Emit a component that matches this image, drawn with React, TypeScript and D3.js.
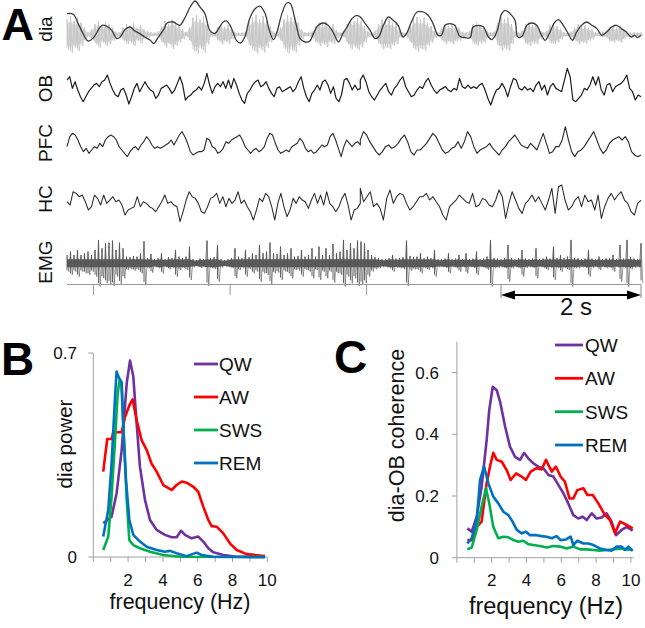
import React from "react";
import * as d3 from "d3";

const FONT = "'Liberation Sans', Arial, Helvetica, sans-serif";

// ================= Panel A data =================
const traceDuration = 8.2; // seconds shown
const halfTime = 4.19; // boundary between the two sampled halves
const scaleBar = [6.2, 8.2]; // 2 s
const axisTickTimes = [0.38, 2.33, 4.28];
const traceLabels = ["dia", "OB", "PFC", "HC", "EMG"];

// integrated diaphragm (t [s], a.u.)
const diaEnvelope: [number, number][] = [
  [0, 20.7], [0.09, 20], [0.16, 10.7], [0.23, 0.7], [0.3, -6.7], [0.38, -3.3], [0.45, 4.7], [0.5, 9], [0.57, 8], [0.64, 4],
  [0.71, -4.3], [0.76, -2.7], [0.83, 4.7], [0.9, 7.3], [0.97, 3.3], [1.04, 0.7], [1.11, -2.7], [1.19, -6], [1.24, -9.3], [1.3, -3.3],
  [1.38, 4.7], [1.43, 11.3], [1.52, 12.3], [1.61, 9], [1.69, 17.3], [1.76, 27.3], [1.83, 33.3], [1.9, 27.3], [1.97, 20.7], [2.04, 4],
  [2.11, 0.7], [2.18, 7.3], [2.23, 12.3], [2.28, 13.3], [2.33, 9], [2.38, 0.7], [2.42, -6], [2.48, -8.7], [2.54, -2.7], [2.61, 15.7],
  [2.69, 25.7], [2.76, 28], [2.83, 20.7], [2.89, 4], [2.95, -5.3], [3, 2.3], [3.07, 20.7], [3.14, 31.3], [3.19, 30.7], [3.26, 14],
  [3.33, -4.3], [3.4, -7.7], [3.47, -6.7], [3.52, 0.7], [3.59, 9], [3.66, 11.3], [3.73, 9], [3.8, 2.3], [3.88, -7.7], [3.94, 0.7],
  [4, 7.3], [4.07, 15.7], [4.14, 19], [4.19, 17.3], [4.26, 10.7], [4.33, 4], [4.4, -4.3], [4.45, -2.7], [4.52, 9], [4.59, 17.3],
  [4.66, 14], [4.73, 9], [4.8, -2.7], [4.85, 0.7], [4.92, 12.3], [5, 22.3], [5.09, 22.3], [5.16, 19], [5.23, 10.7], [5.3, -1],
  [5.35, -1], [5.4, 9], [5.47, 10.7], [5.54, 9], [5.61, -2], [5.69, -3.3], [5.76, -3.3], [5.8, 7.3], [5.88, 9], [5.95, 7.3],
  [6.02, -2.7], [6.07, -5.3], [6.14, 2.3], [6.21, 20.7], [6.26, 24], [6.33, 20.7], [6.4, 14], [6.44, -2.7], [6.5, -2], [6.57, 9],
  [6.64, 11.3], [6.71, 9], [6.78, -1], [6.83, -6], [6.9, 2.3], [6.97, 12.3], [7.02, 14.7], [7.09, 9], [7.16, 0.7], [7.22, -6],
  [7.28, 2.3], [7.35, 9], [7.42, 12.3], [7.5, 9], [7.57, 5.7], [7.64, -1], [7.71, 2.3], [7.78, 7.3], [7.85, 9], [7.92, 5.7],
  [7.99, 2.3], [8.06, -2.7], [8.11, -1], [8.15, -3.3], [8.2, -1],
];

// raw diaphragm EMG amplitude per 50 ms bin
const diaRawAmp = [
  45, 55, 40, 50, 35, 20, 6, 15, 30, 40, 25, 35, 30, 20, 8, 6, 20, 30, 25, 35,
  20, 28, 15, 10, 6, 5, 8, 25, 40, 30, 45, 35, 25, 15, 6, 20, 50, 58, 45, 55,
  30, 8, 6, 20, 30, 22, 28, 15, 6, 5, 6, 8, 35, 50, 58, 45, 55, 40, 25, 8,
  6, 20, 45, 58, 50, 55, 35, 15, 6, 6, 8, 25, 35, 30, 38, 25, 30, 12, 6, 8,
  30, 45, 40, 48, 40, 25, 8, 6, 10, 30, 45, 40, 45, 35, 30, 10, 6, 6, 25, 45,
  52, 45, 50, 35, 25, 10, 6, 20, 30, 25, 30, 22, 20, 8, 6, 10, 30, 35, 28, 25,
  10, 6, 8, 35, 50, 45, 50, 30, 8, 6, 10, 30, 35, 28, 30, 15, 6, 10, 28, 30,
  25, 15, 6, 6, 8, 20, 30, 25, 28, 20, 15, 6, 6, 8, 10, 22, 25, 20, 25, 15,
  8, 6, 6, 6, 5,
];

const obLeft = [
  20, 30, -5, 15, -10, -30, -45, -30, -15, -5, 5, 10, 0, 15, 20, 35, 10, -10, -25, -30,
  -10, -5, -25, -52, -30, -5, 10, -15, 0, 15, 0, -10, -15, -35, -25, -5, 0, 5, -5, -20,
  -10, 10, 30, 5, -40, -30, -25, -15, -10, 0, -10, 10, 40, 5, -20, 0, 10, 0, 15, -5,
  20, -5, 25, 5, -20, -40, -50, -20, -10, 5, 15, 20, 0, 5, 15, -5, -20, -30, -5, 0,
  -15, -10, -5, 0, -15, -5, 15, 30, -5, -30, -45, -20, -10, 5, -10, 15, 20, 5, -20, 0,
  -35, -45, -25, 20, 25, 10, -10, 5, -10, -5,
];
const obRight = [
  20, 35, 15, -15, -30, -40, -25, -10, 0, 10, -15, -25, -5, 5, 20, 30, 0, -15, -30, -25,
  -10, 0, -5, 15, 25, 5, -10, -20, -10, -5, 0, -10, -15, -5, -10, 25, 0, -5, 5, -5,
  0, -5, 5, 10, -10, -35, -55, -30, -10, -5, 10, -5, -30, 0, 25, 20, -5, -10, 0, -10,
  -5, -15, 5, 15, -10, 5, -25, 0, 10, -5, -10, -15, 20, 55, 30, -40, -45, -35, -25, -5,
  -10, 5, 30, 5, 30, -10, -25, 5, 10, -15, 0, 5, 10, 20, 35, -5, -15, -40, -25, -30,
];

const pfcLeft = [
  -5, 25, 35, 30, 15, -5, -20, -10, -25, -15, -5, -10, 5, -5, 15, 25, 30, 25, 15, -5,
  -15, -25, -35, -20, -10, -5, -15, 0, 10, 25, 15, 0, -10, -5, -10, -5, 0, 5, 15, 0,
  15, 30, 40, 25, 5, -20, -30, -25, -20, -20, -15, 20, 15, -5, -10, -25, -20, -10, 10, 5,
  15, 20, 25, 30, 15, -5, -15, -25, -15, -10, -20, -15, -5, 20, 35, 30, 5, -15, -25, -20,
  -15, -20, -5, 0, 5, 20, 10, -10, -20, -15, -25, -20, -10, 0, -5, 0, 25, 35, 15, -10,
  -35, -5, 15, 5, -5, 5, 10, 0,
];
const pfcRight = [
  15, 40, 30, 10, -5, -20, -30, -20, -5, 0, -10, -5, 5, 20, 30, 10, -20, -30, -15, -15,
  -5, 5, 20, 35, 25, 5, -15, -25, -20, -10, -5, 10, -10, 10, 40, 25, -5, -25, -15, -10,
  -5, 5, -10, -20, -30, -15, -5, 10, 20, 30, 15, 0, -5, -10, 5, -5, -15, 10, 35, 5,
  -25, -20, -5, -5, 15, 55, 15, -20, -35, -20, -15, -5, 10, 25, 40, 15, -10, -25, -15, 5,
  15, 20, 25, 15, 25, 10, -20, -30, -35, -30,
];

const hcLeft = [
  0, -10, 30, 25, 15, 20, 0, -25, -15, 20, 10, -10, 20, -5, 5, 15, 0, 5, -10, -40,
  -25, -20, -15, 15, -15, 0, -5, -15, -20, -30, -15, 0, 20, -5, 0, -10, -15, -60, -30, 5,
  30, 15, 10, -5, -30, -35, -15, 10, 15, 25, -5, 15, -15, 10, -5, 5, 30, -5, 5, -15,
  -30, -55, -25, 10, 0, 25, 15, -15, -55, -5, 25, -15, -45, -25, 10, -5, 15, 5, 0, -20,
  5, 25, -5, 20, -10, 30, -5, -15, -30, -15, 10, 25, -10, -55, -25, -20, -5,
];
const hcRight = [
  40, 0, 15, 30, -15, -5, -20, -55, 10, 35, -5, 15, 25, 20, -5, -25, -15, 0, 15, 15,
  25, 5, 15, 0, -15, -40, -55, -15, -5, 5, 20, 10, 0, -5, 25, -15, -10, 10, 5, -10,
  -15, 5, 35, 15, -50, -5, 30, 5, -20, -35, -5, 5, 20, 0, 15, -5, -25, 5, 40, -35,
  45, 50, 5, -25, -15, 5, 15, -15, 20, 0, 5, -25, 20, -50, -15, 10, 25, 5, 20, 30,
  5, -5, -30, -40, -5, 5,
];

// neck EMG amplitude per 50 ms bin
const emgAmp = [
  25, 35, 25, 40, 25, 30, 35, 25, 40, 70, 45, 60, 62, 68, 40, 62, 45, 20, 18, 22,
  20, 30, 66, 15, 28, 12, 15, 30, 12, 18, 15, 40, 20, 15, 20, 50, 12, 10, 14, 12,
  68, 15, 18, 55, 12, 10, 12, 15, 45, 20, 15, 40, 18, 30, 25, 55, 30, 35, 62, 30,
  28, 50, 25, 30, 45, 20, 22, 40, 20, 25, 45, 20, 50, 25, 45, 25, 58, 30, 35, 70,
  40, 60, 45, 68, 65, 60, 40, 25, 18, 15, 12, 12, 15, 25, 14, 15, 18, 68, 22, 18,
  20, 30, 15, 20, 15, 40, 12, 12, 14, 30, 12, 14, 25, 12, 30, 12, 14, 35, 12, 14,
  20, 70, 15, 14, 12, 15, 55, 15, 12, 15, 40, 14, 12, 14, 45, 12, 14, 20, 14, 50,
  15, 25, 15, 20, 70, 15, 15, 12, 14, 40, 14, 12, 20, 12, 15, 14, 25, 12, 55, 14,
  70, 18, 14, 12, 60,
];

// ================= Panel B / C data =================
const stateNames = ["QW", "AW", "SWS", "REM"];
const stateColors = ["#7030A0", "#FF0000", "#00B050", "#0070C0"];
const freqTicks = [2, 4, 6, 8, 10];
const powerTicks = [0, 0.7];
const coherenceTicks = [0, 0.2, 0.4, 0.6];

const powerQW: [number, number][] = [
  [0.57, 0.116], [1.05, 0.138], [1.34, 0.219], [1.63, 0.367], [1.92, 0.596], [2.11, 0.674], [2.3, 0.619], [2.49, 0.459],
  [2.68, 0.31], [2.97, 0.196], [3.26, 0.127], [3.64, 0.093], [4.12, 0.076], [4.5, 0.068], [4.79, 0.068], [5.04, 0.09],
  [5.27, 0.076], [5.65, 0.064], [6.03, 0.07], [6.32, 0.053], [6.61, 0.03], [6.9, 0.016], [7.47, 0.007], [8.24, 0.001], [9.87, 0],
];
const powerAW: [number, number][] = [
  [0.57, 0.293], [0.8, 0.405], [1.05, 0.405], [1.15, 0.428], [1.63, 0.428], [1.82, 0.48], [2.07, 0.52], [2.26, 0.541],
  [2.49, 0.47], [2.78, 0.4], [3.07, 0.367], [3.35, 0.32], [3.64, 0.293], [4.02, 0.247], [4.5, 0.23], [4.79, 0.247],
  [5.08, 0.259], [5.36, 0.255], [5.75, 0.241], [6.03, 0.224], [6.32, 0.173], [6.61, 0.127], [6.8, 0.106], [7.09, 0.104],
  [7.47, 0.081], [7.85, 0.047], [8.24, 0.024], [8.81, 0.01], [9.39, 0.006], [9.87, 0.003],
];
const powerSWS: [number, number][] = [
  [0.57, 0.024], [0.86, 0.07], [1.05, 0.207], [1.25, 0.4], [1.4, 0.56], [1.52, 0.61], [1.62, 0.59], [1.76, 0.4],
  [1.92, 0.196], [2.07, 0.058], [2.3, 0.041], [2.68, 0.03], [3.26, 0.018], [4.02, 0.007], [4.98, 0.001], [9.87, 0],
];
const powerREM: [number, number][] = [
  [0.57, 0.07], [0.86, 0.161], [1.05, 0.32], [1.25, 0.55], [1.34, 0.636], [1.49, 0.613], [1.63, 0.6], [1.72, 0.459],
  [1.88, 0.264], [2.07, 0.127], [2.3, 0.076], [2.68, 0.053], [3.07, 0.035], [3.64, 0.024], [4.12, 0.018], [4.41, 0.021],
  [4.79, 0.013], [5.36, 0.003], [5.94, 0.015], [6.23, 0.007], [6.9, 0.001], [9.87, 0],
];

const cohQW: [number, number][] = [
  [0.6, 0.095], [0.85, 0.084], [1.14, 0.133], [1.42, 0.23], [1.71, 0.381], [1.86, 0.479], [2.06, 0.554], [2.29, 0.543],
  [2.48, 0.506], [2.77, 0.425], [3.05, 0.36], [3.34, 0.327], [3.63, 0.317], [3.86, 0.34], [4.1, 0.322], [4.39, 0.306],
  [4.68, 0.295], [4.97, 0.29], [5.26, 0.268], [5.54, 0.263], [5.83, 0.236], [6.12, 0.209], [6.4, 0.176], [6.69, 0.138],
  [6.98, 0.127], [7.23, 0.133], [7.46, 0.122], [7.75, 0.144], [8.03, 0.127], [8.32, 0.13], [8.6, 0.144], [8.89, 0.117],
  [9.14, 0.073], [9.47, 0.09], [9.76, 0.1], [10.1, 0.088],
];
const cohAW: [number, number][] = [
  [0.6, 0.057], [0.85, 0.057], [1.14, 0.1], [1.42, 0.117], [1.71, 0.241], [1.9, 0.295], [2.09, 0.34], [2.29, 0.317],
  [2.58, 0.311], [2.86, 0.284], [3.09, 0.252], [3.4, 0.273], [3.72, 0.263], [3.97, 0.252], [4.24, 0.279], [4.58, 0.29],
  [4.87, 0.286], [5.12, 0.317], [5.45, 0.279], [5.69, 0.295], [5.96, 0.263], [6.21, 0.246], [6.47, 0.192], [6.69, 0.192],
  [6.92, 0.219], [7.27, 0.225], [7.5, 0.203], [7.81, 0.203], [8.13, 0.176], [8.51, 0.138], [8.8, 0.122], [9.09, 0.079],
  [9.38, 0.117], [9.76, 0.106], [10.1, 0.095],
];
const cohSWS: [number, number][] = [
  [0.6, 0.027], [0.85, 0.033], [1.14, 0.09], [1.42, 0.165], [1.67, 0.225], [1.86, 0.176], [2.09, 0.1], [2.38, 0.063],
  [2.67, 0.068], [2.96, 0.066], [3.24, 0.057], [3.53, 0.052], [3.82, 0.055], [4.1, 0.044], [4.39, 0.041], [4.77, 0.038],
  [5.16, 0.033], [5.54, 0.038], [5.93, 0.036], [6.31, 0.03], [6.69, 0.036], [7.08, 0.027], [7.46, 0.027], [7.85, 0.025],
  [8.22, 0.023], [8.6, 0.025], [8.99, 0.027], [9.37, 0.03], [9.76, 0.027], [10.1, 0.025],
];
const cohREM: [number, number][] = [
  [0.6, 0.046], [0.85, 0.063], [1.14, 0.122], [1.33, 0.252], [1.56, 0.295], [1.81, 0.241], [2.09, 0.198], [2.38, 0.176],
  [2.67, 0.149], [2.96, 0.138], [3.2, 0.117], [3.44, 0.09], [3.72, 0.079], [3.97, 0.084], [4.2, 0.073], [4.58, 0.073],
  [4.87, 0.07], [5.16, 0.068], [5.45, 0.063], [5.73, 0.07], [5.96, 0.057], [6.27, 0.059], [6.54, 0.068], [6.69, 0.041],
  [6.92, 0.055], [7.27, 0.046], [7.56, 0.046], [7.85, 0.041], [8.22, 0.03], [8.6, 0.025], [8.89, 0.023], [9.18, 0.036],
  [9.47, 0.036], [9.66, 0.025], [9.85, 0.036], [10.1, 0.022],
];

const powerSeries = [powerQW, powerAW, powerSWS, powerREM];
const cohSeries = [cohQW, cohAW, cohSWS, cohREM];

// ================= helpers =================
type Pt = [number, number];
const BIN = 0.05;

function halves(left: number[], right: number[]): Pt[] {
  const a: Pt[] = left.map((v, i) => [(halfTime * i) / (left.length - 1), v]);
  const b: Pt[] = right.map((v, j) => [halfTime + ((traceDuration - halfTime) * j) / (right.length - 1), v]);
  return a.concat(b);
}

function zigzag(amps: number[], binSec: number): Pt[] {
  const pts: Pt[] = [];
  amps.forEach((a, i) => {
    pts.push([i * binSec, a]);
    pts.push([i * binSec + binSec / 2, -a]);
  });
  return pts;
}

export default function App() {
  // ---- Panel A ----
  const tx = d3.scaleLinear().domain([0, traceDuration]).range([67, 641]);
  const centers = [34.3, 86.7, 145, 201.7, 263.3];
  const ampScale = (c: number) => d3.scaleLinear().domain([-30, 30]).range([c + 10, c - 10]);
  const envScale = d3.scaleLinear().domain([-10, 10]).range([44.3, 24.3]);

  const mkLine = (ys: d3.ScaleLinear<number, number>, curve: d3.CurveFactory = d3.curveLinear) =>
    d3.line<Pt>().x((d) => tx(d[0])).y((d) => ys(d[1])).curve(curve);

  const diaY = ampScale(centers[0]);
  const emgY = ampScale(centers[4]);

  const bandArea = (ys: d3.ScaleLinear<number, number>, frac: number, cap: number) =>
    d3
      .area<number>()
      .x((_, i) => tx(i * BIN))
      .y0((a) => ys(-Math.min(a, cap) * frac))
      .y1((a) => ys(Math.min(a, cap) * frac));

  const diaBand = bandArea(diaY, 0.7, 100)(diaRawAmp) || "";
  const diaZig = mkLine(diaY)(zigzag(diaRawAmp, BIN)) || "";
  const emgBand = bandArea(emgY, 0.75, 16)(emgAmp) || "";
  const emgZig = mkLine(emgY)(zigzag(emgAmp, BIN)) || "";

  const envPath = mkLine(envScale, d3.curveCatmullRom)(diaEnvelope) || "";
  const obPath = mkLine(ampScale(centers[1]))(halves(obLeft, obRight)) || "";
  const pfcPath = mkLine(ampScale(centers[2]))(halves(pfcLeft, pfcRight)) || "";
  const hcPath = mkLine(ampScale(centers[3]))(halves(hcLeft, hcRight)) || "";

  const axisY = 284.5;
  const barY = 295;
  const bx0 = tx(scaleBar[0]);
  const bx1 = tx(scaleBar[1]);

  // ---- Panel B ----
  const bx = d3.scaleLinear().domain([0, 10]).range([93.3, 267.3]);
  const by = d3.scaleLinear().domain([0, 0.7]).range([557, 353]);
  const bLine = d3.line<Pt>().x((d) => bx(d[0])).y((d) => by(d[1]));

  // ---- Panel C ----
  const cx = d3.scaleLinear().domain([0, 10]).range([456.9, 630.9]);
  const cy = d3.scaleLinear().domain([0, 0.7]).range([557.7, 341.7]);
  const cLine = d3.line<Pt>().x((d) => cx(d[0])).y((d) => cy(d[1]));

  const axisColor = "#a0a0a0";
  const integerHz = d3.range(0, 11);

  const bLegendY = [364, 397, 430, 463];
  const cLegendY = [345, 378.3, 411.7, 445];

  return (
    <svg
      width={645}
      height={628}
      style={{ position: "absolute", left: 0, top: 0, background: "#fff" }}
      fontFamily={FONT}
    >
      <rect x={0} y={0} width={645} height={628} fill="#fff" />

      {/* ===== Panel A ===== */}
      <text x={1.5} y={40} fontSize={45} fontWeight="bold" fill="#000">A</text>
      {traceLabels.map((lab, i) => (
        <text
          key={lab}
          transform={`translate(52, ${[29, 88.5, 143, 199, 262][i]}) rotate(-90)`}
          textAnchor="middle"
          fontSize={19}
          fill="#111"
        >
          {lab}
        </text>
      ))}
      <path d={diaBand} fill="#dadada" stroke="none" />
      <path d={diaZig} fill="none" stroke="#c4c4c4" strokeWidth={0.8} />
      {diaRawAmp.map((a, i) => (
        <line key={i} x1={tx(i * BIN)} x2={tx(i * BIN)} y1={diaY(a)} y2={diaY(-a * 0.9)} stroke="#c6c6c6" strokeWidth={0.9} />
      ))}
      <path d={envPath} fill="none" stroke="#3c3c3c" strokeWidth={1.3} />
      <path d={obPath} fill="none" stroke="#1c1c1c" strokeWidth={1.2} strokeLinejoin="round" />
      <path d={pfcPath} fill="none" stroke="#2a2a2a" strokeWidth={1.1} strokeLinejoin="round" />
      <path d={hcPath} fill="none" stroke="#2a2a2a" strokeWidth={1.05} strokeLinejoin="round" />
      <path d={emgBand} fill="#5e5e5e" stroke="none" />
      <path d={emgZig} fill="none" stroke="#555" strokeWidth={0.6} />
      {emgAmp.map((a, i) => (
        <line key={i} x1={tx(i * BIN)} x2={tx(i * BIN)} y1={emgY(a)} y2={emgY(-a * 0.85)} stroke="#555" strokeWidth={0.9} />
      ))}

      {/* time axis */}
      <line x1={tx(0)} x2={tx(traceDuration)} y1={axisY} y2={axisY} stroke="#999" strokeWidth={1} />
      {axisTickTimes.map((t) => (
        <line key={t} x1={tx(t)} x2={tx(t)} y1={axisY} y2={axisY + 10.5} stroke="#999" strokeWidth={1} />
      ))}
      <line x1={bx0} x2={bx0} y1={axisY} y2={barY + 3} stroke="#888" strokeWidth={1} />
      <line x1={bx1} x2={bx1} y1={axisY} y2={barY + 3} stroke="#888" strokeWidth={1} />
      <line x1={bx0 + 6} x2={bx1 - 6} y1={barY} y2={barY} stroke="#000" strokeWidth={2} />
      <path d={`M${bx0},${barY} L${bx0 + 14},${barY - 4.5} L${bx0 + 14},${barY + 4.5} Z`} fill="#000" />
      <path d={`M${bx1},${barY} L${bx1 - 14},${barY - 4.5} L${bx1 - 14},${barY + 4.5} Z`} fill="#000" />
      <text x={(bx0 + bx1) / 2 + 5} y={315} fontSize={24} textAnchor="middle" fill="#111">2 s</text>

      {/* ===== Panel B ===== */}
      <text x={1} y={375} fontSize={46} fontWeight="bold" fill="#000">B</text>
      <line x1={bx(0)} x2={bx(0)} y1={by(0)} y2={by(0.7)} stroke={axisColor} />
      <line x1={bx(0)} x2={bx(10)} y1={by(0)} y2={by(0)} stroke={axisColor} />
      {integerHz.map((f) => (
        <line key={f} x1={bx(f)} x2={bx(f)} y1={by(0)} y2={by(0) + 5} stroke={axisColor} />
      ))}
      {powerTicks.map((v) => (
        <g key={v}>
          <line x1={bx(0) - 5} x2={bx(0)} y1={by(v)} y2={by(v)} stroke={axisColor} />
          <text x={77} y={by(v) + 6} fontSize={17} textAnchor="end" fill="#111">{v}</text>
        </g>
      ))}
      {freqTicks.map((f) => (
        <text key={f} x={bx(f)} y={585.5} fontSize={17} textAnchor="middle" fill="#111">{f}</text>
      ))}
      <text transform="translate(72, 444) rotate(-90)" textAnchor="middle" fontSize={20.5} fill="#111">dia power</text>
      <text x={180} y={609} textAnchor="middle" fontSize={21.5} fill="#111">frequency (Hz)</text>
      {powerSeries.map((s, i) => (
        <path key={i} d={bLine(s) || ""} fill="none" stroke={stateColors[i]} strokeWidth={2.6} strokeLinejoin="round" />
      ))}
      {stateNames.map((n, i) => (
        <g key={n}>
          <line x1={194} x2={218} y1={bLegendY[i]} y2={bLegendY[i]} stroke={stateColors[i]} strokeWidth={2.8} />
          <text x={219} y={bLegendY[i] + 7} fontSize={19} fill="#111">{n}</text>
        </g>
      ))}

      {/* ===== Panel C ===== */}
      <text x={334} y={373} fontSize={46} fontWeight="bold" fill="#000">C</text>
      <line x1={cx(0)} x2={cx(0)} y1={cy(0)} y2={cy(0.7)} stroke={axisColor} />
      <line x1={cx(0)} x2={cx(10.15)} y1={cy(0)} y2={cy(0)} stroke={axisColor} />
      {integerHz.map((f) => (
        <line key={f} x1={cx(f)} x2={cx(f)} y1={cy(0)} y2={cy(0) + 5} stroke={axisColor} />
      ))}
      {coherenceTicks.map((v) => (
        <g key={v}>
          <line x1={cx(0) - 5} x2={cx(0)} y1={cy(v)} y2={cy(v)} stroke={axisColor} />
          <text x={439} y={cy(v) + 6} fontSize={17} textAnchor="end" fill="#111">{v}</text>
        </g>
      ))}
      {freqTicks.map((f) => (
        <text key={f} x={cx(f)} y={585.5} fontSize={17} textAnchor="middle" fill="#111">{f}</text>
      ))}
      <text transform="translate(404, 435.5) rotate(-90)" textAnchor="middle" fontSize={21.5} fill="#111">dia-OB coherence</text>
      <text x={546} y={614} textAnchor="middle" fontSize={23.5} fill="#111">frequency (Hz)</text>
      {cohSeries.map((s, i) => (
        <path key={i} d={cLine(s) || ""} fill="none" stroke={stateColors[i]} strokeWidth={2.6} strokeLinejoin="round" />
      ))}
      {stateNames.map((n, i) => (
        <g key={n}>
          <line x1={555} x2={583} y1={cLegendY[i]} y2={cLegendY[i]} stroke={stateColors[i]} strokeWidth={2.8} />
          <text x={585} y={cLegendY[i] + 7} fontSize={19} fill="#111">{n}</text>
        </g>
      ))}
    </svg>
  );
}
